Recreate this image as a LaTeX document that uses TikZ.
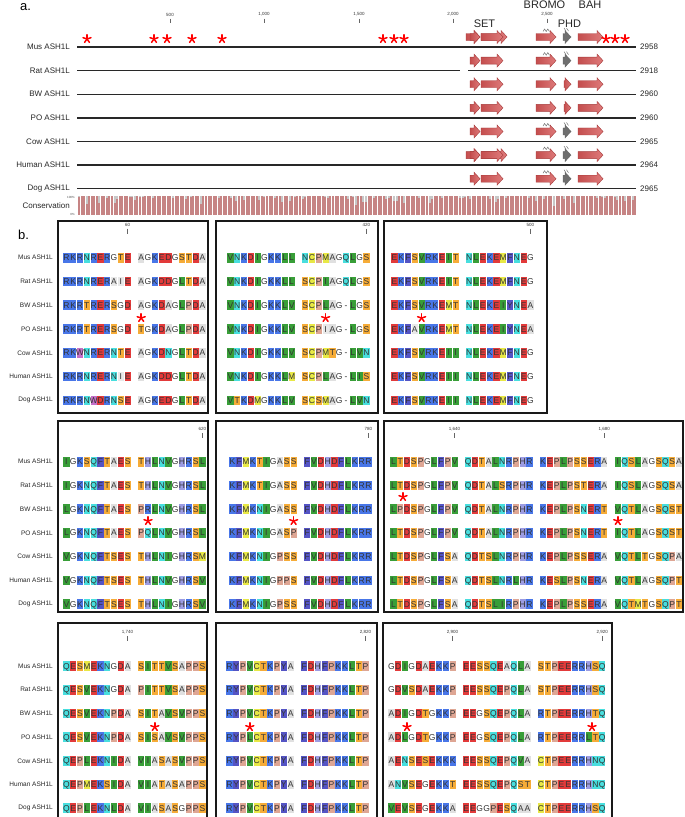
\documentclass[tikz,border=0pt]{standalone}
\usepackage{fontspec}
\setmainfont{Liberation Sans}
\definecolor{cRK}{RGB}{72,118,232}
\definecolor{cDE}{RGB}{226,58,58}
\definecolor{cNQ}{RGB}{72,222,222}
\definecolor{cST}{RGB}{246,172,56}
\definecolor{cILV}{RGB}{56,158,56}
\definecolor{cMC}{RGB}{232,232,70}
\definecolor{cFY}{RGB}{84,84,196}
\definecolor{cW}{RGB}{196,112,200}
\definecolor{cH}{RGB}{156,156,226}
\definecolor{cP}{RGB}{222,166,148}
\definecolor{cA}{RGB}{224,224,224}
\definecolor{cL}{RGB}{232,232,232}
\definecolor{arrowdark}{RGB}{196,78,78}
\definecolor{arrowlight}{RGB}{222,122,122}
\definecolor{arrowedge}{RGB}{165,58,58}
\definecolor{phdgray}{RGB}{110,110,110}
\definecolor{consrose}{RGB}{198,132,132}
\definecolor{linegray}{RGB}{40,40,40}
\newcommand\setrc[2]{\expandafter\def\csname rc-#1\endcsname{#2}}
\setrc{R}{cRK}\setrc{K}{cRK}\setrc{D}{cDE}\setrc{E}{cDE}\setrc{N}{cNQ}\setrc{Q}{cNQ}
\setrc{S}{cST}\setrc{T}{cST}\setrc{I}{cILV}\setrc{L}{cILV}\setrc{V}{cILV}\setrc{M}{cMC}
\setrc{C}{cMC}\setrc{F}{cFY}\setrc{Y}{cFY}\setrc{W}{cW}\setrc{H}{cH}\setrc{P}{cP}
\setrc{A}{cA}\setrc{a}{cL}\setrc{i}{cL}
\newcount\seqi
\newcommand\seqcell[1]{%
  \pgfmathsetmacro\cx{\seqx+\the\seqi*6.8+3.4}%
  \ifcsname rc-#1\endcsname
    \edef\curcol{\csname rc-#1\endcsname}%
    \fill[fill=\curcol] (\cx-3.1,\seqy-4.8) rectangle (\cx+3.1,\seqy+4.8);%
  \fi
  \node[res] at (\cx,\seqy) {\uppercase{#1}};}
\def\seqloop#1{\ifx#1\relax\else\seqcell{#1}\global\advance\seqi by 1 \expandafter\seqloop\fi}
\newcommand\seqrow[3]{\pgfmathsetmacro\seqx{#1}\pgfmathsetmacro\seqy{#2}\global\seqi=0 \edef\tmpseq{#3}\expandafter\seqloop\tmpseq\relax}
\newcommand\seqline[3]{\edef\tmplist{#3}\foreach \bk [count=\kb from 0] in \tmplist {\seqrow{#1+\kb*74.8}{#2}{\bk}}}
\newcommand\seqbox[4]{\foreach \rw [count=\ri from 0] in {#4} {\seqline{#1}{#2+\ri*#3}{\rw}}}
\newcommand\barrow[4]{\path[#4] (#1,#3-3.5) -- (#2-6,#3-3.5) -- (#2-6,#3-6.5) -- (#2,#3) -- (#2-6,#3+6.5) -- (#2-6,#3+3.5) -- (#1,#3+3.5) -- cycle;}
\newcommand\redstar[2]{\foreach \ang in {270,342,54,126,198}{\draw[red,line width=1.5pt,line cap=round] (#1,#2) -- ++(\ang:4.2);}}
\newcommand\squig[2]{\draw[black!55,line width=0.5] (#1,#2) -- ++(1.6,-2.5) -- ++(1.6,2.5) -- ++(1.6,-2.5) -- ++(1.6,2.5);}
\begin{document}
\begin{tikzpicture}[x=1pt,y=-1pt,
  res/.style={inner sep=0pt,font=\fontsize{8.5}{9}\selectfont,text=black!80,text height=6.1pt,text depth=0pt},
  rowlab/.style={anchor=east,inner sep=0pt,font=\fontsize{8}{9}\selectfont,text=black!85},
  blab/.style={anchor=east,inner sep=0pt,font=\fontsize{6.5}{7}\selectfont,text=black!85},
  ticklab/.style={inner sep=0pt,font=\fontsize{4.5}{5}\selectfont,text=black!80},
  tickline/.style={draw=black!60,line width=0.5},
  boxframe/.style={draw=black!90,line width=1.6},
  redarr/.style={left color=arrowdark,right color=arrowlight,draw=arrowedge,line width=0.4},
  grayarr/.style={fill=phdgray,draw=black!60,line width=0.4},
  protline/.style={draw=linegray,line width=1.3},
  domlab/.style={inner sep=0pt,font=\fontsize{11}{12}\selectfont,text=black!85},
  panel/.style={inner sep=0pt,anchor=base west,font=\fontsize{13}{14}\selectfont}]
\useasboundingbox (0,0) rectangle (685,817);
\clip (0,0) rectangle (685,817);
% ---------- panel a ----------
\node[panel] (pa) at (20,10) {a.};
\foreach \tx/\tl in {170/500,264/{1,000},359/{1,500},453/{2,000},547/{2,500}}{
  \node[ticklab] (tk\tx) at (\tx,14.5) {\tl};
  \draw[tickline] (\tx,18.5) -- (\tx,22.5);}
\node[domlab] (set) at (484.5,24) {SET};
\node[domlab] (bromo) at (544.5,5.2) {BROMO};
\node[domlab] (phd) at (569.5,24) {PHD};
\node[domlab] (bah) at (590,5.2) {BAH};
\foreach \nm/\num/\dbl/\ph [count=\ri from 0] in {Mus/2958/1/g,Rat/2918/0/g,BW/2960/0/r,PO/2960/0/r,Cow/2965/0/g,Human/2964/1/g,Dog/2965/0/g}{
  \pgfmathsetmacro\ly{47+\ri*23.62}
  \pgfmathsetmacro\ay{\ly-10}
  \node[rowlab] (la\ri) at (70,\ly) {\nm{} ASH1L};
  \node[anchor=west,inner sep=0pt,font=\fontsize{8}{9}\selectfont,text=black!85] (ln\ri) at (640,\ly) {\num};
  \draw[protline] (77,\ly) -- (636,\ly);
  \ifnum\dbl=1
    \barrow{466}{480}{\ay}{redarr}
    \barrow{481}{507}{\ay}{redarr}
  \fi
  \barrow{470}{480}{\ay}{redarr}
  \barrow{481}{503}{\ay}{redarr}
  \barrow{536}{556}{\ay}{redarr}
  \barrow{578}{603}{\ay}{redarr}
  \if\ph g
    \barrow{563}{571}{\ay}{grayarr}
    \squig{543}{\ay-5.5}
    \draw[black!55,line width=0.5] (564,\ay-9) -- ++(2,3) (566.5,\ay-9) -- ++(2,3);
  \else
    \barrow{564}{571}{\ay}{redarr}
  \fi
}
\fill[white] (460,68) rectangle (468,73.5);
\foreach \sx in {87,154,167,192,222,383,394,404,606,615,625}{\redstar{\sx}{39}}
% conservation
\node[anchor=east,inner sep=0pt,font=\fontsize{8}{9}\selectfont,text=black!85] (conslab) at (70,206) {Conservation};
\node[anchor=east,inner sep=0pt,font=\fontsize{3}{3}\selectfont,text=black!70] (c100) at (75,197.5) {100\%};
\node[anchor=east,inner sep=0pt,font=\fontsize{3}{3}\selectfont,text=black!70] (c0) at (75,214) {0\%};
\pgfmathsetseed{42}
\foreach \q in {0,...,219}{
  \pgfmathsetmacro\qx{78+\q*2.54}
  \fill[consrose] (\qx,196) rectangle (\qx+2.0,215);
  \pgfmathsetmacro\rr{rnd}
  \ifdim\rr pt<0.3pt
    \pgfmathsetmacro\dd{1+rnd*rnd*12}
    \fill[black!22] (\qx,196) rectangle (\qx+2.0,196+\dd);
  \fi
}
% ---------- panel b ----------
\node[panel] (pb) at (18,239) {b.};
\draw[boxframe] (58,221) rectangle (208,413);
\draw[boxframe] (216,221) rectangle (378,413);
\draw[boxframe] (384,221) rectangle (547,413);
\draw[boxframe] (58,421) rectangle (208,612);
\draw[boxframe] (216,421) rectangle (378,612);
\draw[boxframe] (384,421) rectangle (683,612);
\draw[boxframe] (58,623) rectangle (207,840);
\draw[boxframe] (216,623) rectangle (377,840);
\draw[boxframe] (383,623) rectangle (612,840);
\foreach \nm [count=\ri from 0] in {Mus,Rat,BW,PO,Cow,Human,Dog}{
  \node[blab] (lbA\ri) at (53,257.7+\ri*23.77) {\nm{} ASH1L};
  \node[blab] (lbB\ri) at (53,461.7+\ri*23.72) {\nm{} ASH1L};
  \node[blab] (lbC\ri) at (53,666+\ri*23.7) {\nm{} ASH1L};
}
% position ticks
\foreach \tx/\ty/\tl in {127.6/224.5/60,366.4/224.5/420,530.4/224.5/500,202.4/429/620,368.4/429/780,454.6/429/{1,640},604.2/429/{1,680},127.6/632.3/{1,740},365.4/632.3/{2,820},452.6/632.3/{2,900},602.2/632.3/{2,920}}{
  \node[ticklab] at (\tx,\ty) {\tl};
  \draw[tickline] (\tx,\ty+4) -- (\tx,\ty+9);}
% sequences
\seqbox{63}{257.7}{23.77}{{RKRNRERGTE,AGKEDGSTDA},{RKRNRERaiE,AGKDDGLTDA},{RKRTRERSGD,AGKDAGLPDA},{RKRTRERSGD,TGKDAGLPDA},{RKWNRERNTE,AGKDNGLTDA},{RKRNRERNiE,AGKDDGLTDA},{RKRNWDRNSE,AGKEDGLTDA}}
\seqbox{227}{257.7}{23.77}{{VNKDIGKKLL,NCPMAGQLGS},{VNKDIGKKLL,SCPIAGQLGS},{VNKDIGKKLV,SCPLAG-LGS},{VNKDIGKKLV,SCPiAG-LGS},{VNKDIGKKLV,SCPMTG-LVN},{VNKDIGKKLM,SCPLAG-LIS},{VTKDMGKKLV,SCSMAG-LVN}}
\seqbox{391}{257.7}{23.77}{{EKFSVRKEIT,NLEKEMFNEG},{EKFSVRKEIT,NLEKEMFNEG},{EKFSVRKEMT,NLEKEIYNEA},{EKFaVRKEMT,NLEKEIYNEA},{EKFSVRKEII,NLEKEMFNEG},{EKFSVRKEII,NLEKEMFNEG},{EKFSVRKEII,NLEKEMFNEG}}
\seqbox{63}{461.7}{23.72}{{IGKSQFTAES,THLNVGHRSL},{IGKNQFTAES,THLNVGHRSL},{LGKNQFTAES,PRLNVGHRSL},{LGKNQFTAES,PQLNVGHRSL},{VGKNQFTSES,THLNIGHRSM},{VGKNQFTSES,THLNVGHRSV},{VGKNQFTSES,THLNIGHRSV}}
\seqbox{229}{461.7}{23.72}{{KFMKTIGASS,FVDHDFLKRR},{KFMKTIGASS,FVDHDFLKRR},{KFMKNIGASS,FVDHDFLKRR},{KFMKNIGASP,FVDHDFLKRR},{KFMKNIGPSS,FVDHDFLKRR},{KFMKNIGPPS,FVDHDFLKRR},{KFMKNIGPSS,FVDHDFLKRR}}
\seqbox{390}{461.7}{23.72}{{LTDSPGLFPV,QDTALNRPHR,KEPLPSSERA,IQSLAGSQSA},{LTDSPGLFPV,QDTALSRPHR,KEPLPSTERA,IQSLAGSQSA},{LPDSPGLFPV,QDTALNRPHR,KEPLPSNERT,VQTLAGSQST},{LTDSPGLFPV,QDTALNRPHR,KEPLPSNERT,IQTLAGSQST},{LTDSPGLFSA,QDTSLNRPHR,KEPLPSSERA,VQTLTGSQPA},{LTDSPGLFSA,QDTSLNRLHR,KESLPSNERA,VQTLAGSQPT},{LTDSPGLFSA,QDTSLIRPHR,KEPLPSSERA,VQTMTGSQPT}}
\seqbox{63}{666}{23.7}{{QESMEKNGDA,SITTVSAPPS},{QESVEKNGDA,PITTVSAPPS},{QESVEKNPDA,SITAVSVPPS},{QESVEKNPDA,SISAVSVPPS},{QEPLEKNIDA,VIASASVPPS},{QEPMEKSIDA,VIATASAPPS},{QEPLEKNLDA,VIASASGPPS}}
\seqbox{226}{666}{23.7}{{RYPVCTKPYA,FDHFPKKLTP},{RYPVCTKPYA,FDHFPKKLTP},{RYPVCTKPYA,FDHFPKKLTP},{RYPLCTKPYA,FDHFPKKLTP},{RYPVCTKPYA,FDHFPKKLTP},{RYPVCTKPYA,FDHFPKKLTP},{RYPVCTKPYA,FDHFPKKLTP}}
\seqbox{388}{666}{23.7}{{GDIGDAEKKP,EESSQEAQLA,STPEERRHSQ},{GDVSDAEKKP,EESSQEPQLA,STPEERRHSQ},{ADIGDTGKKP,EEGSQEPQLA,RTPEERRHTQ},{ADLGDTGKKP,EEGSQEPQLA,RTPEERRLTQ},{AENSESEKKK,EESSQEPQVA,CTPEERRHNQ},{ANVSEGEKKT,EESSQEPQST,CTPEERRHNQ},{VEVSEGEKKA,EEGGPESQAA,CTPEERRHSQ}}
% asterisks
\foreach \sx/\sy in {141.2/318,325.6/318,421.6/318,148/521,293.6/521,403/497,617.8/521,154.8/727,249.8/727,407/727,592/727}{\redstar{\sx}{\sy}}
\end{tikzpicture}
\end{document}
